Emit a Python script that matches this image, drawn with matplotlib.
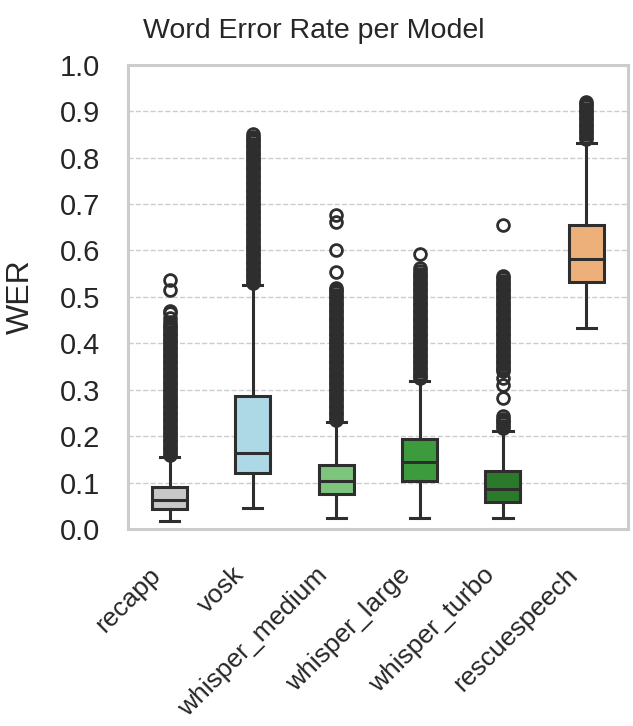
import matplotlib
matplotlib.use("Agg")
import matplotlib.pyplot as plt
from matplotlib.transforms import ScaledTranslation

models = ["recapp", "vosk", "whisper_medium", "whisper_large", "whisper_turbo", "rescuespeech"]
colors = ["#c8c8c8", "#add8e6", "#7dc47d", "#3c9b3c", "#2b7a2b", "#edb07a"]

q1 = [0.043, 0.121, 0.076, 0.104, 0.058, 0.533]
med = [0.064, 0.164, 0.104, 0.145, 0.086, 0.582]
q3 = [0.092, 0.287, 0.138, 0.194, 0.125, 0.655]
whislo = [0.017, 0.045, 0.024, 0.024, 0.024, 0.434]
whishi = [0.155, 0.525, 0.230, 0.320, 0.212, 0.832]

# outliers (dense columns listed point by point)
fl_recapp = [0.16, 0.165, 0.17, 0.175, 0.18, 0.185, 0.19, 0.195, 0.20, 0.205, 0.21, 0.215,
             0.22, 0.225, 0.23, 0.235, 0.24, 0.245, 0.25, 0.255, 0.26, 0.265, 0.27, 0.275,
             0.28, 0.285, 0.29, 0.295, 0.30, 0.305, 0.31, 0.315, 0.32, 0.325, 0.33, 0.335,
             0.34, 0.345, 0.35, 0.355, 0.36, 0.365, 0.37, 0.375, 0.38, 0.385, 0.39, 0.395,
             0.40, 0.405, 0.41, 0.415, 0.42, 0.425, 0.43, 0.435, 0.44, 0.445, 0.455, 0.465,
             0.47, 0.515, 0.537]
fl_vosk = [0.53, 0.535, 0.54, 0.545, 0.55, 0.555, 0.56, 0.565, 0.57, 0.575, 0.58, 0.585,
           0.59, 0.595, 0.60, 0.605, 0.61, 0.615, 0.62, 0.625, 0.63, 0.635, 0.64, 0.645,
           0.65, 0.655, 0.66, 0.665, 0.67, 0.675, 0.68, 0.685, 0.69, 0.695, 0.70, 0.705,
           0.71, 0.715, 0.72, 0.725, 0.73, 0.735, 0.74, 0.745, 0.75, 0.755, 0.76, 0.765,
           0.77, 0.775, 0.78, 0.785, 0.79, 0.795, 0.80, 0.805, 0.81, 0.815, 0.82, 0.825,
           0.83, 0.835, 0.84, 0.845, 0.85]
fl_medium = [0.235, 0.24, 0.245, 0.25, 0.255, 0.26, 0.265, 0.27, 0.275, 0.28, 0.285, 0.29,
             0.295, 0.30, 0.305, 0.31, 0.315, 0.32, 0.325, 0.33, 0.335, 0.34, 0.345, 0.35,
             0.355, 0.36, 0.365, 0.37, 0.375, 0.38, 0.385, 0.39, 0.395, 0.40, 0.405, 0.41,
             0.415, 0.42, 0.425, 0.43, 0.435, 0.44, 0.445, 0.45, 0.455, 0.46, 0.465, 0.47,
             0.475, 0.48, 0.485, 0.49, 0.495, 0.50, 0.505, 0.51, 0.515, 0.52, 0.553,
             0.60, 0.662, 0.676]
fl_large = [0.325, 0.33, 0.335, 0.34, 0.345, 0.35, 0.355, 0.36, 0.365, 0.37, 0.375, 0.38,
            0.385, 0.39, 0.395, 0.40, 0.405, 0.41, 0.415, 0.42, 0.425, 0.43, 0.435, 0.44,
            0.445, 0.45, 0.455, 0.46, 0.465, 0.47, 0.475, 0.48, 0.485, 0.49, 0.495, 0.50,
            0.505, 0.51, 0.515, 0.52, 0.525, 0.53, 0.535, 0.54, 0.545, 0.55, 0.555, 0.562,
            0.592]
fl_turbo = [0.218, 0.223, 0.228, 0.233, 0.238, 0.243, 0.283, 0.31, 0.325,
            0.34, 0.345, 0.35, 0.355, 0.36, 0.365, 0.37, 0.375, 0.38, 0.385, 0.39, 0.395,
            0.40, 0.405, 0.41, 0.415, 0.42, 0.425, 0.43, 0.435, 0.44, 0.445, 0.45, 0.455,
            0.46, 0.465, 0.47, 0.475, 0.48, 0.485, 0.49, 0.495, 0.50, 0.505, 0.51, 0.515,
            0.52, 0.525, 0.53, 0.535, 0.54, 0.545, 0.655]
fl_rescue = [0.84, 0.845, 0.85, 0.855, 0.86, 0.865, 0.87, 0.875, 0.88, 0.885, 0.89, 0.895,
             0.90, 0.905, 0.91, 0.915, 0.92]
fliers = [fl_recapp, fl_vosk, fl_medium, fl_large, fl_turbo, fl_rescue]

plt.rcParams["font.family"] = ["Liberation Sans", "DejaVu Sans"]

stats = []
for i, m in enumerate(models):
    stats.append(dict(label=m, q1=q1[i], med=med[i], q3=q3[i],
                      whislo=whislo[i], whishi=whishi[i], fliers=fliers[i]))

fig = plt.figure(figsize=(6.33, 7.26), dpi=100)
ax = fig.add_axes([0.202, 0.271, 0.790, 0.640])

dark = "#2e2e2e"
bp = ax.bxp(stats, positions=range(len(models)), widths=0.42, patch_artist=True,
            boxprops=dict(edgecolor=dark, linewidth=2.2),
            medianprops=dict(color=dark, linewidth=2.2),
            whiskerprops=dict(color=dark, linewidth=2.2),
            capprops=dict(color=dark, linewidth=2.2),
            capwidths=0.23,
            flierprops=dict(marker="o", markersize=8.5, markerfacecolor="none",
                            markeredgecolor=dark, markeredgewidth=2.0))
for patch, c in zip(bp["boxes"], colors):
    patch.set_facecolor(c)

ax.set_xlim(-0.5, 5.5)
ax.set_ylim(0, 1.0)
ax.set_yticks([0.0, 0.1, 0.2, 0.3, 0.4, 0.5, 0.6, 0.7, 0.8, 0.9, 1.0])
ax.tick_params(axis="y", labelsize=21, length=0, pad=20, colors="#262626")
ax.tick_params(axis="x", labelsize=19, length=0, pad=24, colors="#262626")
ax.set_xticks(range(len(models)))
ax.set_xticklabels(models, rotation=45, ha="right")
shift = ScaledTranslation(-4 / 100, 0, fig.dpi_scale_trans)
for lab in ax.get_xticklabels():
    lab.set_transform(lab.get_transform() + shift)
ax.yaxis.grid(True, linestyle="--", color="#cccccc", linewidth=1)
ax.set_axisbelow(True)
for s in ax.spines.values():
    s.set_color("#cccccc")
    s.set_linewidth(2.2)

ax.set_ylabel("WER", fontsize=23, color="#262626", labelpad=17)
fig.suptitle("Word Error Rate per Model", fontsize=20.5, color="#262626", x=0.495, y=0.975)

fig.savefig("out.png", dpi=100)
